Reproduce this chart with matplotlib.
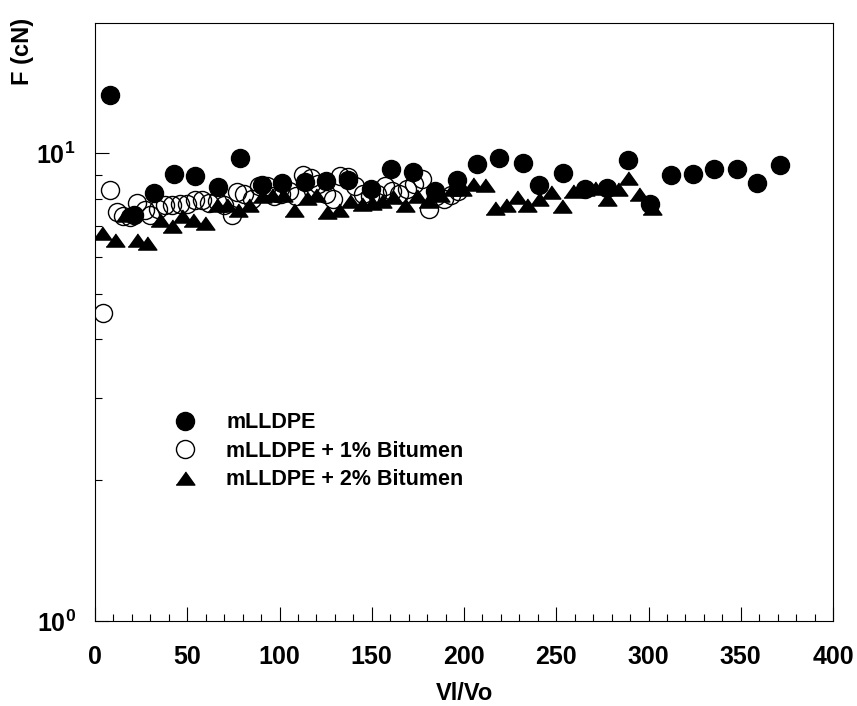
import numpy as np
import matplotlib
matplotlib.use("Agg")
import matplotlib.pyplot as plt
from matplotlib.ticker import MultipleLocator, LogLocator, NullFormatter

plt.rcParams["font.family"] = ["Liberation Sans", "DejaVu Sans"]
plt.rcParams["font.weight"] = "bold"
plt.rcParams["mathtext.fontset"] = "custom"
plt.rcParams["mathtext.rm"] = "Liberation Sans:bold"
plt.rcParams["mathtext.bf"] = "Liberation Sans:bold"

# mLLDPE (filled circles)
x_pure = [8.1, 21.1, 32, 42.8, 54.2, 66.8, 78.6, 90.3, 101.5, 113.8, 125, 137.3,
          149.4, 160.4, 172.5, 184.3, 196, 207.2, 219.1, 232.1, 240.8, 253.8,
          265.6, 277.3, 289, 300.8, 312, 324.3, 335.5, 347.8, 359, 371.3]
f_pure = [13.3, 7.37, 8.21, 9.05, 8.94, 8.47, 9.79, 8.55, 8.65, 8.67, 8.73, 8.77,
          8.37, 9.24, 9.14, 8.3, 8.77, 9.47, 9.79, 9.55, 8.54, 9.09,
          8.37, 8.44, 9.7, 7.78, 8.97, 9.02, 9.24, 9.24, 8.63, 9.44]

# mLLDPE + 1% Bitumen (open circles)
x_b1 = [4.5, 8, 12, 15, 19, 23, 27, 30, 34, 38, 42, 46, 50, 54, 58, 62, 66, 70,
        74, 77, 81, 85, 89, 93, 97, 101, 105, 109, 113, 117, 121, 125, 129, 133,
        137, 141, 145, 149, 153, 157, 161, 165, 169, 173, 177, 181, 185, 189,
        193, 197]
f_b1 = [4.55, 8.35, 7.5, 7.35, 7.3, 7.85, 7.55, 7.4, 7.6, 7.75, 7.75, 7.8, 7.8,
        7.95, 7.95, 7.85, 7.9, 7.75, 7.4, 8.25, 8.2, 8.0, 8.5, 8.5, 8.1, 8.2, 8.3,
        8.1, 9.0, 8.85, 8.6, 8.2, 8.0, 8.95, 8.9, 8.5, 8.2, 8.1, 8.2, 8.5, 8.3,
        8.2, 8.4, 8.6, 8.8, 7.6, 8.1, 8.0, 8.15, 8.3]

# mLLDPE + 2% Bitumen (triangles)
x_b2 = [3.6, 10.8, 16.3, 22.6, 28.4, 35.2, 41.6, 47, 53.3, 59.6, 66, 71.4, 77.7,
        83.6, 90.3, 95.8, 102, 108, 115, 120, 126, 132.4, 138.2, 144.5, 150,
        155.4, 161.7, 168, 174.4, 180.7, 187, 193.3, 199, 205, 211.4, 216.8, 223,
        228.5, 234.3, 240.8, 247, 253, 259.3, 265.6, 271, 277.3, 283.6, 289, 295,
        301.7]
f_b2 = [6.76, 6.54, 7.4, 6.54, 6.44, 7.2, 7.0, 7.33, 7.2, 7.1, 7.75, 7.77, 7.58,
        7.75, 8.1, 8.13, 8.13, 7.55, 8.03, 8.13, 7.48, 7.55, 7.9, 7.8, 7.85,
        7.9, 8.07, 7.77, 8.1, 7.9, 8.13, 8.37, 8.4, 8.6, 8.57, 7.65, 7.77,
        8.07, 7.77, 7.98, 8.25, 7.7, 8.3, 8.37, 8.44, 7.98, 8.37, 8.86, 8.2,
        7.65]

TRI = [(-1, -0.7), (1, -0.7), (0, 0.7)]   # flattish triangle like the original

fig = plt.figure(figsize=(8.57, 7.06), dpi=100)
ax = fig.add_axes([95 / 857, 1 - 621 / 706, 738 / 857, 598 / 706])

h1, = ax.plot(x_b1, f_b1, ls="none", marker="o", ms=13, mfc="none", mec="black",
              mew=1.0, label="mLLDPE + 1% Bitumen")
h0, = ax.plot(x_pure, f_pure, ls="none", marker="o", ms=13, mfc="black", mec="black",
              label="mLLDPE")
h2, = ax.plot(x_b2, f_b2, ls="none", marker=TRI, ms=13.5, mfc="black", mec="black",
              label="mLLDPE + 2% Bitumen")

ax.set_yscale("log")
ax.set_xlim(0, 400)
ax.set_ylim(1, 19)

ax.xaxis.set_major_locator(MultipleLocator(50))
ax.xaxis.set_minor_locator(MultipleLocator(10))
ax.yaxis.set_major_locator(LogLocator(base=10, numticks=5))
ax.yaxis.set_minor_locator(LogLocator(base=10, subs=np.arange(2, 10), numticks=20))
ax.yaxis.set_major_formatter(plt.FuncFormatter(
    lambda v, p: r"$\mathbf{10^{%d}}$" % round(np.log10(v))))
ax.yaxis.set_minor_formatter(NullFormatter())

ax.tick_params(which="both", direction="in", top=False, right=False, width=0.8)
ax.tick_params(which="major", length=10)
ax.tick_params(which="minor", length=5)
ax.tick_params(axis="x", which="major", labelsize=18, pad=17)
ax.tick_params(axis="y", which="major", labelsize=18, pad=14)
for s in ax.spines.values():
    s.set_linewidth(0.8)

ax.set_xlabel("Vl/Vo", fontsize=17, fontweight="bold", labelpad=10)
fig.text(22 / 857, 1 - 51 / 706, "F (cN)", rotation=90, fontsize=17,
         fontweight="bold", ha="center", va="center")

ax.legend(handles=[h0, h1, h2], loc="upper left", bbox_to_anchor=(0.108, 0.349),
          frameon=False, fontsize=15.5, handlelength=1.0, handletextpad=1.4,
          labelspacing=0.35, borderpad=0, borderaxespad=0)

fig.savefig("out.png", dpi=100)
